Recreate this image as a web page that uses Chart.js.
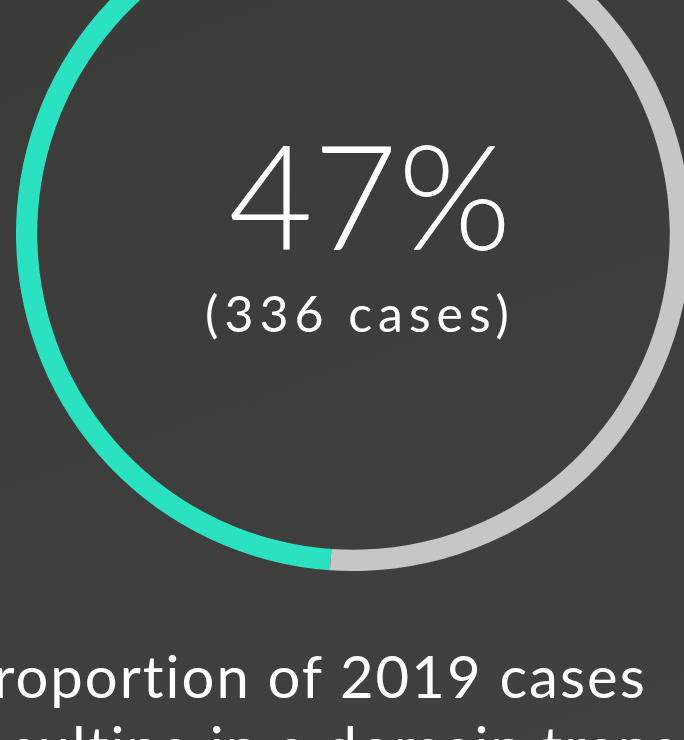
<!DOCTYPE html>
<html>
<head>
<meta charset="utf-8">
<script src="https://cdn.jsdelivr.net/npm/chart.js@4.4.0/dist/chart.umd.min.js"></script>
<style>
  html, body { margin: 0; padding: 0; }
  body {
    width: 684px; height: 740px; overflow: hidden; position: relative;
    background: linear-gradient(160deg, #3b3b3a 0%, #3e3e3c 60%, #41413f 100%);
    font-family: Lato, "Open Sans", sans-serif; color: #fff;
  }
  #wrap { position: absolute; left: 16px; top: -104px; width: 675px; height: 675px; }
  .big { position: absolute; width: 720px; text-align: center; white-space: nowrap; }
  #pct { top: 114px; left: 10px; font-size: 146px; line-height: 160px; font-weight: 300; }
  #cases { top: 283px; left: 3px; width: 714px; font-size: 50px; line-height: 60px; letter-spacing: 6px; font-weight: 400; }
  .cap { font-size: 58px; line-height: 71px; letter-spacing: 2px; font-weight: 400; }
  #cap1 { top: 640px; left: -58px; }
  #cap2 { top: 711px; left: -114px; width: 900px; text-align: left; padding-left: 70px; }
</style>
</head>
<body>
<div id="wrap"><canvas id="ring" width="675" height="675"></canvas></div>
<div class="big" id="pct">47%</div>
<div class="big" id="cases">(336 cases)</div>
<div class="big cap" id="cap1">Proportion of 2019 cases</div>
<div class="big cap" id="cap2">resulting in a domain transfer</div>
<script>
// share of 2019 cases
const labels = ['Domain transferred', 'Other outcome'];
const shares = [47, 53];
const ringColours = ['#2ae2c2', '#c6c6c6'];

const ctx = document.getElementById('ring').getContext('2d');
const ring = new Chart(ctx, {
  type: 'doughnut',
  data: {
    labels: labels,
    datasets: [{
      data: shares,
      backgroundColor: ringColours,
      borderWidth: 0
    }]
  },
  options: {
    responsive: false,
    animation: false,
    cutout: '93.7%',
    rotation: 184,
    layout: { padding: 0 },
    plugins: {
      legend: { display: false },
      tooltip: { enabled: false }
    }
  }
});
</script>
</body>
</html>
